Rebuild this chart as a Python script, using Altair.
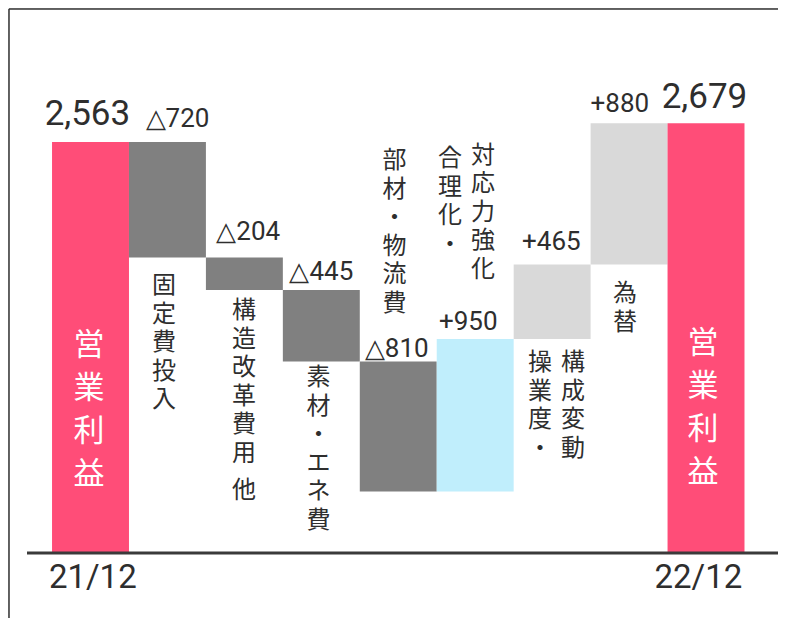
import altair as alt
import pandas as pd

# ---- data ----
categories = ["21/12", "固定費投入", "構造改革費用 他", "素材・エネ費", "部材・物流費",
              "対応力強化・合理化", "操業度・構成変動", "為替", "22/12"]
changes = [2563, -720, -204, -445, -810, 950, 465, 880, 2679]
value_labels = ["2,563", "△720", "△204", "△445", "△810", "+950", "+465", "+880", "2,679"]
kinds = ["total", "cost", "cost", "cost", "cost", "effort", "other", "other", "total"]

# label placement (x in bar-index units, y in value units)
value_label_x = [-0.04, 1.13, 2.05, 3.0, 3.98, 4.91, 5.99, 6.88, 7.98]
value_label_y = [2668, 2656, 1951, 1702, 1222, 1390, 1889, 2749, 2774]

cat_text = ["固定費投入", "構造改革費用", "他", "素材・エネ費", "部材・物流費",
            "対応力強化", "合理化・", "構成変動", "操業度・", "為替"]
cat_x = [0.955, 1.995, 1.995, 2.963, 3.951, 5.101, 4.672, 6.271, 5.842, 6.947]
cat_y = [1738, 1583, 461, 1165, 2518, 2550, 2531, 1259, 1259, 1689]

total_text = ["営業利益", "営業利益"]
total_x = [-0.02, 7.96]
total_y = [1384, 1396]

period_labels = ["21/12", "22/12"]
period_x = [0.03, 7.9]
period_y = [-218, -218]

# ---- build tables ----
rows = []
run = 0
for i, (c, v, k) in enumerate(zip(categories, changes, kinds)):
    if k == "total":
        start, end = 0, v
        run = v
    else:
        start, end = run, run + v
        run = run + v
    rows.append({"cat": c, "i0": i - 0.5, "i1": i + 0.5, "start": start, "end": end, "kind": k})
bars = pd.DataFrame(rows)

vl = pd.DataFrame({"text": value_labels, "x": value_label_x, "y": value_label_y, "kind": kinds})
cl = pd.DataFrame({"text": ["\n".join(list(t)) for t in cat_text], "x": cat_x, "y": cat_y})
tl = pd.DataFrame({"text": ["\n".join(list(t)) for t in total_text], "x": total_x, "y": total_y})
pl = pd.DataFrame({"text": period_labels, "x": period_x, "y": period_y})

W, H = 770, 610
xs = alt.Scale(domain=[-1.0723, 8.9355], nice=False, zero=False)
ys = alt.Scale(domain=[-405.2, 3397.8], nice=False, zero=False)

num_font = "Roboto"
jp_font = "Noto Sans CJK JP"
ink = "#2e2e2e"

bar_layer = alt.Chart(bars).mark_rect().encode(
    x=alt.X("i0:Q", scale=xs, axis=None),
    x2="i1:Q",
    y=alt.Y("start:Q", scale=ys, axis=None),
    y2="end:Q",
    color=alt.Color("kind:N", legend=None,
                    scale=alt.Scale(domain=["total", "cost", "effort", "other"],
                                    range=["#FF4D78", "#808080", "#C0EEFC", "#D9D9D9"])),
)

baseline = alt.Chart(pd.DataFrame({"y": [0]})).mark_rule(color="#3a3a3a", strokeWidth=3).encode(
    y=alt.Y("y:Q", scale=ys, axis=None),
    x=alt.value(19), x2=alt.value(W),
)

frame_left = alt.Chart(pd.DataFrame({"a": [0]})).mark_rule(color="#333333", strokeWidth=1.5).encode(
    x=alt.value(1), y=alt.value(1), y2=alt.value(H)
)
frame_top = alt.Chart(pd.DataFrame({"a": [0]})).mark_rule(color="#333333", strokeWidth=1.5).encode(
    x=alt.value(1), x2=alt.value(W), y=alt.value(1)
)

big_vals = alt.Chart(vl[vl["kind"] == "total"]).mark_text(
    font=num_font, fontSize=35, color=ink, baseline="alphabetic", align="center"
).encode(x=alt.X("x:Q", scale=xs, axis=None), y=alt.Y("y:Q", scale=ys, axis=None), text="text:N")

small_vals = alt.Chart(vl[vl["kind"] != "total"]).mark_text(
    font=num_font, fontSize=26, color=ink, baseline="alphabetic", align="center"
).encode(x=alt.X("x:Q", scale=xs, axis=None), y=alt.Y("y:Q", scale=ys, axis=None), text="text:N")

cat_layer = alt.Chart(cl).mark_text(
    font=jp_font, fontSize=24, lineHeight=28.5, color=ink, baseline="top", align="center",
    lineBreak="\n"
).encode(x=alt.X("x:Q", scale=xs, axis=None), y=alt.Y("y:Q", scale=ys, axis=None), text="text:N")

total_layer = alt.Chart(tl).mark_text(
    font=jp_font, fontSize=31, lineHeight=43, color="white", baseline="top", align="center",
    lineBreak="\n"
).encode(x=alt.X("x:Q", scale=xs, axis=None), y=alt.Y("y:Q", scale=ys, axis=None), text="text:N")

period_layer = alt.Chart(pl).mark_text(
    font=num_font, fontSize=33, color=ink, baseline="alphabetic", align="center"
).encode(x=alt.X("x:Q", scale=xs, axis=None), y=alt.Y("y:Q", scale=ys, axis=None), text="text:N")

chart = alt.layer(
    bar_layer, baseline, frame_left, frame_top, big_vals, small_vals,
    cat_layer, total_layer, period_layer
).properties(
    width=W, height=H, padding=0,
    autosize=alt.AutoSizeParams(type="none"),
).configure_view(stroke=None).configure(background="white")

chart.save("out.html", embed_options={"renderer": "svg", "actions": False})
